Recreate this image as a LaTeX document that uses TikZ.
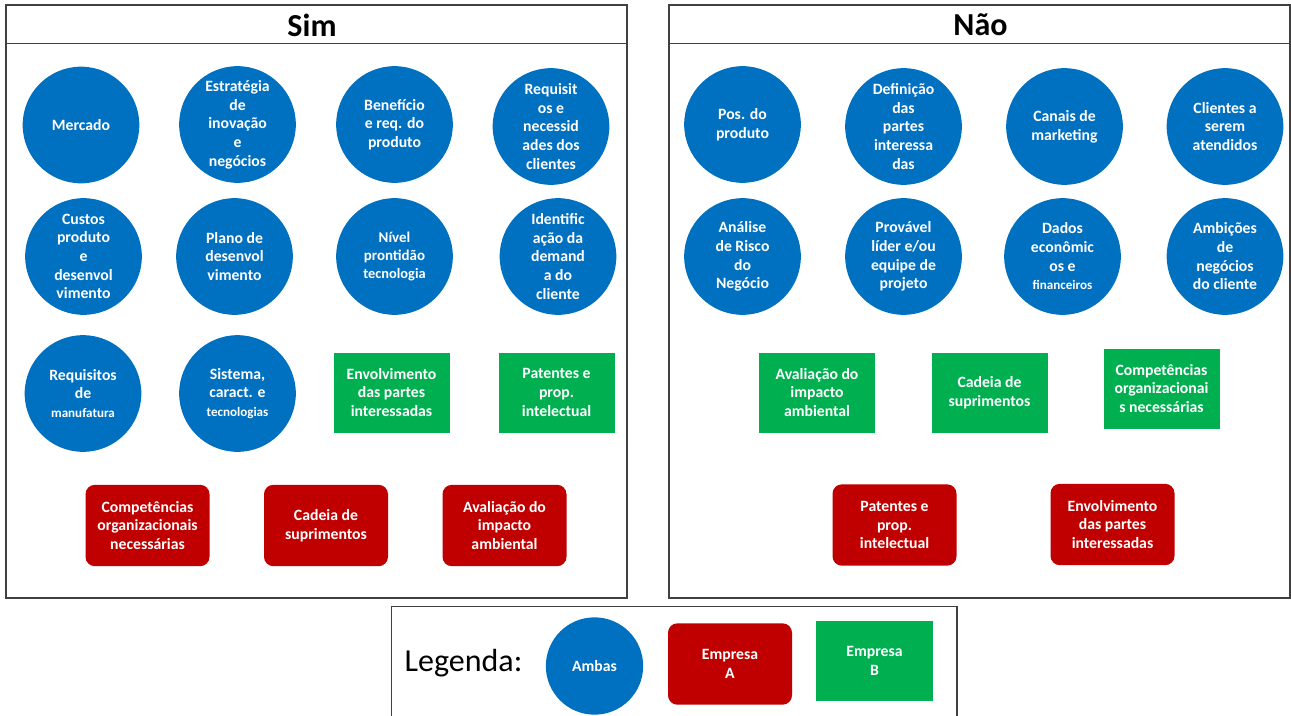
\documentclass[tikz,border=0pt]{standalone}
\usepackage{fontspec}
\setmainfont{Carlito}
\definecolor{ambas}{HTML}{0070C0}
\definecolor{empA}{HTML}{C00000}
\definecolor{empB}{HTML}{00B050}
\definecolor{moldura}{HTML}{404040}
\newcommand{\menor}[1]{{\fontsize{9.8}{11}\selectfont #1}}
\begin{document}
\begin{tikzpicture}[x=0.75pt,y=-0.75pt,
  lbl/.style={text=white,font=\bfseries\fontsize{11.8}{14}\selectfont,align=center,inner sep=0pt},
  bolha/.style={lbl,circle,fill=ambas,minimum size=87.5pt},
  caixaA/.style={lbl,rectangle,rounded corners=7pt,fill=empA,minimum width=93pt,minimum height=61pt},
  caixaB/.style={lbl,rectangle,fill=empB,minimum width=87pt,minimum height=60pt},
  painel/.style={draw=moldura,line width=1.4pt},
  titulo/.style={font=\bfseries\fontsize{24}{28}\selectfont,inner sep=0pt}]
\useasboundingbox (0,0) rectangle (1291,715);

% ---------- painel "Sim" ----------
\draw[painel] (6,5) rectangle (627,598);
\draw[painel] (6,43.5) -- (627,43.5);
\node[titulo] (sim) at (312,25) {Sim};

\node[bolha] (s1) at (81,125) {Mercado};
\node[bolha] (s2) at (237.5,124.5) {Estratégia\\de\\inovação\\e\\negócios};
\node[bolha] (s3) at (394.5,124.5) {Benefício\\e req. do\\produto};
\node[bolha] (s4) at (551,126.5) {Requisit\\os e\\necessid\\ades dos\\clientes};
\node[bolha] (s5) at (83.5,256.5) {Custos\\produto\\e\\desenvol\\vimento};
\node[bolha] (s6) at (234.5,256.5) {Plano de\\desenvol\\vimento};
\node[bolha,font=\bfseries\fontsize{11.2}{13.5}\selectfont] (s7) at (394.5,256.5) {Nível\\prontidão\\{\fontsize{10.8}{12}\selectfont tecnologia}};
\node[bolha] (s8) at (558,256.5) {Identific\\ação da\\demand\\a do\\cliente};
\node[bolha] (s9) at (83,393.5) {Requisitos\\de\\\menor{manufatura}};
\node[bolha] (s10) at (237.5,393.5) {Sistema,\\caract. e\\\menor{tecnologias}};

\node[caixaB] (s11) at (391.5,392.5) {Envolvimento\\das partes\\interessadas};
\node[caixaB] (s12) at (556.5,392.5) {Patentes e\\prop.\\intelectual};

\node[caixaA] (s13) at (147.5,525.5) {Competências\\organizacionais\\necessárias};
\node[caixaA] (s14) at (326,525.5) {Cadeia de\\suprimentos};
\node[caixaA] (s15) at (504.5,525.5) {Avaliação do\\impacto\\ambiental};

% ---------- painel "Não" ----------
\draw[painel] (669,5) rectangle (1290,598);
\draw[painel] (669,43.5) -- (1290,43.5);
\node[titulo] (nao) at (980.5,25) {Não};

\node[bolha] (n1) at (742.5,124.5) {Pos. do\\produto};
\node[bolha] (n2) at (903.5,126.5) {Definição\\das\\partes\\interessa\\das};
\node[bolha] (n3) at (1064.5,126.5) {Canais de\\marketing};
\node[bolha] (n4) at (1225,126.5) {Clientes a\\serem\\atendidos};
\node[bolha] (n5) at (742.5,256.5) {Análise\\de Risco\\do\\Negócio};
\node[bolha] (n6) at (903.5,256.5) {Provável\\líder e/ou\\equipe de\\projeto};
\node[bolha] (n7) at (1062.5,256.5) {Dados\\econômic\\os e\\\menor{financeiros}};
\node[bolha] (n8) at (1225,256.5) {Ambições\\de\\negócios\\do cliente};

\node[caixaB] (n9) at (817,392.5) {Avaliação do\\impacto\\ambiental};
\node[caixaB] (n10) at (989.5,392.5) {Cadeia de\\suprimentos};
\node[caixaB] (n11) at (1161.5,388.5) {Competências\\organizacionai\\s necessárias};

\node[caixaA] (n12) at (894.5,525) {Patentes e\\prop.\\intelectual};
\node[caixaA] (n13) at (1112.5,524.5) {Envolvimento\\das partes\\interessadas};

% ---------- legenda ----------
\draw[painel] (391.5,606.5) rectangle (957,730);
\node[font=\fontsize{24}{28}\selectfont,inner sep=0pt] (leg) at (463.5,663) {Legenda:};
\node[bolha,minimum size=73pt] (legAmbas) at (594.5,666) {Ambas};
\node[caixaA] (legA) at (730,664) {Empresa\\A};
\node[caixaB,minimum width=88pt] (legB) at (874.5,661) {Empresa\\B};
\end{tikzpicture}
\end{document}
